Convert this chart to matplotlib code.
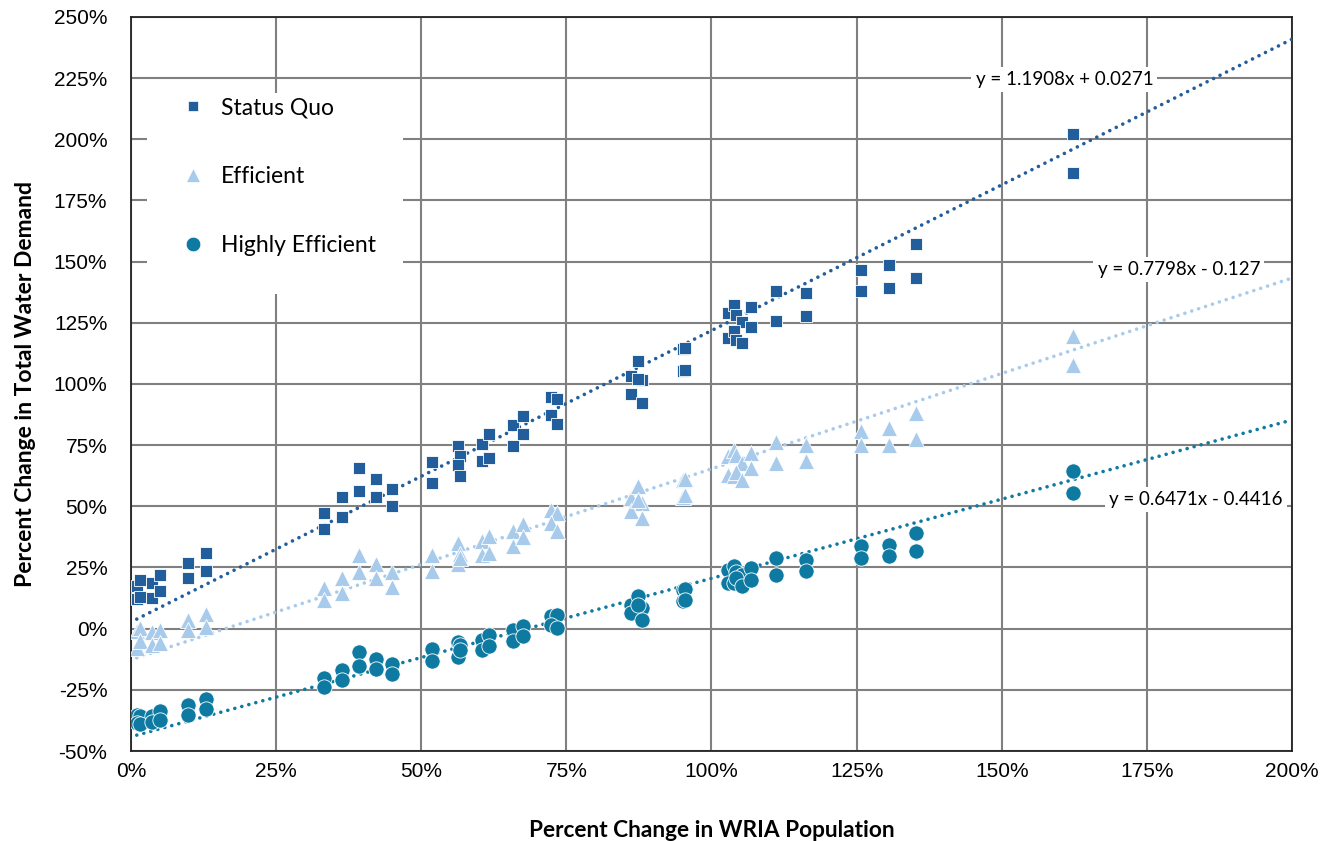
import numpy as np
import matplotlib.pyplot as plt
from matplotlib.ticker import MultipleLocator, FuncFormatter
from matplotlib.lines import Line2D
from matplotlib.patches import Rectangle

# ==========================================
# data (percent)
# ==========================================
pop_change = [1.0, 1.6, 3.6, 5.0, 9.8, 12.9,
              33.3, 36.4, 39.3, 42.3, 45.0,
              51.8, 56.3, 56.6, 60.5, 61.6, 65.8, 67.5, 72.4, 73.4,
              86.2, 87.3, 88.0, 95.1, 95.4,
              102.8, 103.8, 104.3, 105.2, 106.8, 111.2, 116.3,
              125.8, 130.5, 135.2, 162.3]

status_quo_hi = [17.5, 20.0, 18.7, 22.1, 26.8, 31.0,
                 47.3, 53.6, 65.6, 61.2, 57.1,
                 68.1, 74.5, 70.4, 75.6, 79.7, 83.3, 86.7, 94.5, 94.0,
                 103.3, 109.2, 101.4, 114.2, 114.8,
                 129.0, 132.4, 128.3, 125.5, 131.3, 138.1, 137.1,
                 146.7, 148.7, 157.0, 202.1]
status_quo_lo = [12.0, 13.0, 12.5, 15.2, 20.7, 23.7,
                 40.7, 45.5, 56.1, 53.6, 50.0,
                 59.5, 67.0, 62.2, 68.4, 69.7, 74.5, 79.5, 87.4, 83.7,
                 96.0, 102.0, 92.4, 105.1, 105.6,
                 118.7, 121.5, 118.0, 116.7, 123.1, 125.8, 127.6,
                 138.1, 139.2, 143.3, 186.1]

efficient_hi = [-1.0, 0.3, -1.5, -0.4, 3.5, 6.0,
                16.5, 20.5, 30.0, 26.5, 23.0,
                30.0, 35.0, 30.5, 35.7, 37.7, 39.7, 42.9, 48.6, 47.3,
                53.4, 58.1, 51.3, 60.9, 61.3,
                70.4, 73.1, 71.0, 67.7, 71.8, 76.1, 75.2,
                80.9, 82.0, 88.1, 119.7]
efficient_lo = [-8.0, -5.0, -6.5, -5.8, -0.5, 0.5,
                11.8, 14.5, 23.0, 20.5, 17.0,
                23.5, 26.5, 29.0, 30.2, 30.9, 33.6, 37.5, 43.2, 39.7,
                47.9, 52.5, 45.2, 53.8, 54.5,
                62.9, 62.2, 64.0, 60.9, 65.6, 67.7, 68.3,
                75.2, 75.2, 77.5, 107.8]

high_eff_hi = [-35.1, -35.8, -35.5, -33.8, -31.0, -28.7,
               -20.3, -16.8, -9.5, -12.2, -14.5,
               -8.3, -5.3, -6.5, -4.5, -2.5, -0.5, 1.0, 5.0, 5.7,
               9.8, 13.5, 8.5, 15.9, 16.2,
               24.1, 25.5, 23.0, 22.0, 24.8, 28.9, 28.2,
               33.6, 34.3, 39.1, 64.3]
high_eff_lo = [-38.5, -38.8, -38.3, -37.2, -35.1, -32.8,
               -23.8, -20.8, -15.2, -16.5, -18.6,
               -13.2, -11.5, -8.9, -8.9, -7.2, -5.0, -3.0, 1.6, 0.3,
               6.4, 9.5, 3.7, 11.2, 11.6,
               18.7, 18.5, 20.5, 17.3, 20.0, 22.1, 23.4,
               28.9, 29.5, 31.6, 55.4]

series_names = ['Status Quo', 'Efficient', 'Highly Efficient']
trend_slope = [1.1908, 0.7798, 0.6471]
trend_intercept = [0.0271, -0.127, -0.4416]
trend_text = ['y = 1.1908x + 0.0271', 'y = 0.7798x - 0.127', 'y = 0.6471x - 0.4416']

COLORS = ['#215E9B', '#A8CBEC', '#0E79A1']
MARKERS = ['s', '^', 'o']
SIZES = [8.5, 11.5, 11]
LEG_SIZES = [7.5, 9.5, 10.5]

# equation label positions (data units, percent)
LABEL_POS = [(160.8, 224.3), (180.5, 146.6), (183.5, 52.7)]

# ==========================================
# plotting
# ==========================================
fig = plt.figure(figsize=(13.43, 8.41), dpi=100)
ax = fig.add_axes([0.0975, 0.107, 0.8645, 0.873])

x = np.array(pop_change)
ys = [(status_quo_hi, status_quo_lo),
      (efficient_hi, efficient_lo),
      (high_eff_hi, high_eff_lo)]

for k, (hi, lo) in enumerate(ys):
    xx = np.concatenate([x, x])
    yy = np.concatenate([hi, lo])
    ax.plot(xx, yy, linestyle='none', marker=MARKERS[k], ms=SIZES[k],
            color=COLORS[k], mec='white', mew=0.6, zorder=4)

    # linear trendline, forecast out to 200%
    tx = np.array([x.min(), 200.0])
    ty = (trend_slope[k] * tx / 100 + trend_intercept[k]) * 100
    ax.plot(tx, ty, linestyle=(0, (0.01, 2.0)), dash_capstyle='round',
            lw=2.6, color=COLORS[k], zorder=3)

    ax.text(LABEL_POS[k][0], LABEL_POS[k][1], trend_text[k], fontsize=13.5,
            family='Lato', ha='center', va='center', zorder=5,
            bbox=dict(facecolor='white', edgecolor='none', pad=3))

ax.set_xlim(0, 200)
ax.set_ylim(-50, 250)
ax.xaxis.set_major_locator(MultipleLocator(25))
ax.yaxis.set_major_locator(MultipleLocator(25))
pct = FuncFormatter(lambda v, p: f'{v:.0f}%')
ax.xaxis.set_major_formatter(pct)
ax.yaxis.set_major_formatter(pct)
ax.tick_params(length=0, labelsize=15)
ax.tick_params(axis='x', pad=8)
ax.tick_params(axis='y', pad=17)
for lab in ax.get_xticklabels() + ax.get_yticklabels():
    lab.set_family('Liberation Sans')

ax.grid(True, color='#808080', lw=1.5, zorder=0)
ax.set_axisbelow(True)
for s in ax.spines.values():
    s.set_color('#222222')
    s.set_linewidth(1.3)

ax.set_xlabel('Percent Change in WRIA Population', fontsize=16.3,
              fontweight='bold', family='Lato', labelpad=28)
ax.set_ylabel('Percent Change in Total Water Demand', fontsize=16.5,
              fontweight='bold', family='Lato', labelpad=13)

# white legend panel over the grid
ax.add_patch(Rectangle((0.0138, 0.6226), 0.2205, 0.274, transform=ax.transAxes,
                       facecolor='white', edgecolor='none', zorder=2))

handles = [Line2D([], [], linestyle='none', marker=MARKERS[k], ms=LEG_SIZES[k],
                  color=COLORS[k], mec='white', mew=0.5) for k in range(3)]
leg = ax.legend(handles, series_names, loc='center left',
                bbox_to_anchor=(0.0435, 0.782), borderaxespad=0, borderpad=0,
                prop={'family': 'Lato', 'size': 16.5}, labelspacing=2.1,
                handlelength=1.0, handletextpad=0.72, frameon=False)
leg.set_zorder(6)

plt.savefig('out.png', dpi=100)
